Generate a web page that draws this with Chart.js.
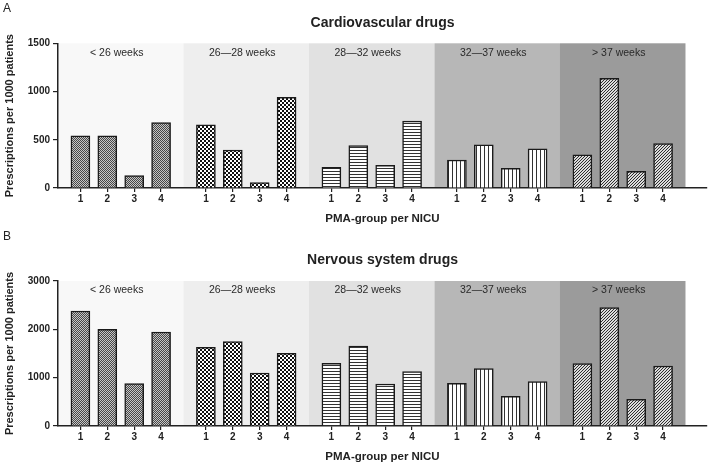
<!DOCTYPE html>
<html>
<head>
<meta charset="utf-8">
<script src="https://cdn.jsdelivr.net/npm/chart.js@4.4.0/dist/chart.umd.min.js"></script>
<style>
  body { margin: 0; background: #fff; width: 709px; height: 466px; position: relative; overflow: hidden; font-family: "Liberation Sans", Arial, sans-serif; }
  canvas { position: absolute; left: 0; }
  #chartA { top: 0; }
  #chartB { top: 233px; }
  .panel-letter { position: absolute; left: 3px; font-size: 12px; color: #222; z-index: 1; }
</style>
</head>
<body>
<div class="panel-letter" style="top:1px">A</div>
<div class="panel-letter" style="top:229px">B</div>
<canvas id="chartA" width="709" height="233"></canvas>
<canvas id="chartB" width="709" height="233"></canvas>
<script>
// Data
const pmaGroups = ['< 26 weeks', '26\u201428 weeks', '28\u201432 weeks', '32\u201437 weeks', '> 37 weeks'];
const nicuLabels = ['1', '2', '3', '4'];
const cardioValues = [
    [541, 541, 130, 679],
    [655, 393, 55, 941],
    [213, 441, 234, 693],
    [290, 448, 203, 407],
    [344, 1138, 172, 461]
];
const nervousValues = [
    [2379, 2000, 876, 1945],
    [1628, 1745, 1097, 1503],
    [1297, 1655, 869, 1124],
    [883, 1186, 614, 917],
    [1290, 2448, 552, 1241]
];
const cardioTicks = [0, 500, 1000, 1500];
const nervousTicks = [0, 1000, 2000, 3000];

// Layout of the x axis: each PMA group is 14 units wide, bars 3 units apart
const GROUP_SPAN = 14;
const BAR_STEP = 3;
const FIRST_BAR = 2.5;
const bandColors = ['#f8f8f8', '#eeeeee', '#e1e1e1', '#b7b7b7', '#9b9b9b'];
const FONT = '"Liberation Sans", Arial, sans-serif';
const INK = '#222';

Chart.defaults.font.family = FONT;

function barX(group, bar) {
    return group * GROUP_SPAN + FIRST_BAR + bar * BAR_STEP;
}

// Small tiled fills for the bars of each PMA group
function makePattern(size, bg, draw) {
    const c = document.createElement('canvas');
    c.width = size;
    c.height = size;
    const ctx = c.getContext('2d');
    ctx.fillStyle = bg;
    ctx.fillRect(0, 0, size, size);
    draw(ctx);
    return ctx.createPattern(c, 'repeat');
}

const barPatterns = [
    makePattern(2, '#c6c6c6', ctx => {
        ctx.fillStyle = '#474747';
        ctx.fillRect(0, 0, 1, 1);
        ctx.fillRect(1, 1, 1, 1);
    }),
    makePattern(4, '#ffffff', ctx => {
        ctx.fillStyle = '#111';
        ctx.fillRect(0, 0, 2, 2);
        ctx.fillRect(2, 2, 2, 2);
    }),
    makePattern(3, '#ffffff', ctx => {
        ctx.fillStyle = '#333';
        ctx.fillRect(0, 0, 3, 1);
    }),
    makePattern(4, '#ffffff', ctx => {
        ctx.fillStyle = '#333';
        ctx.fillRect(0, 0, 1, 4);
    }),
    makePattern(3, '#dcdcdc', ctx => {
        ctx.fillStyle = '#2e2e2e';
        ctx.fillRect(0, 2, 1, 1);
        ctx.fillRect(1, 1, 1, 1);
        ctx.fillRect(2, 0, 1, 1);
    })
];

// Grey bands behind each PMA group with their labels
const pmaBands = {
    id: 'pmaBands',
    beforeDraw(chart) {
        const { ctx, chartArea, scales: { x } } = chart;
        ctx.save();
        pmaGroups.forEach((label, g) => {
            const left = x.getPixelForValue(g * GROUP_SPAN);
            const right = x.getPixelForValue((g + 1) * GROUP_SPAN);
            ctx.fillStyle = bandColors[g];
            ctx.fillRect(left, chartArea.top, right - left, chartArea.bottom - chartArea.top);
            ctx.fillStyle = '#2a2a2a';
            ctx.font = '10.5px ' + FONT;
            ctx.textAlign = 'center';
            ctx.textBaseline = 'middle';
            ctx.fillText(label, (left + right) / 2 - 4, chartArea.top + 9.5);
        });
        ctx.restore();
    }
};

// One panel (A or B)
function createPanel(canvasId, title, values, yTicks, layout) {
    const points = [];
    values.forEach((groupValues, g) => {
        groupValues.forEach((v, b) => points.push({ x: barX(g, b), y: v }));
    });
    const tickPositions = points.map(p => p.x);

    return new Chart(document.getElementById(canvasId), {
        type: 'bar',
        data: {
            datasets: [{
                data: points,
                backgroundColor: ctx => barPatterns[Math.floor(ctx.dataIndex / 4)],
                borderColor: '#1a1a1a',
                borderWidth: 1.5,
                barThickness: 19
            }]
        },
        options: {
            responsive: false,
            animation: false,
            devicePixelRatio: 1,
            layout: { padding: { right: 2 } },
            plugins: {
                legend: { display: false },
                tooltip: { enabled: false },
                title: {
                    display: true,
                    text: title,
                    fullSize: false,
                    color: INK,
                    font: { size: 14, weight: 'bold' },
                    padding: { top: layout.titleTop, bottom: layout.titleBottom }
                }
            },
            scales: {
                x: {
                    type: 'linear',
                    min: 0,
                    max: 72.4,
                    offset: false,
                    afterBuildTicks: scale => { scale.ticks = tickPositions.map(value => ({ value })); },
                    afterFit: scale => { scale.height = layout.xHeight; },
                    grid: { display: true, drawOnChartArea: false, drawTicks: true, tickLength: 4, color: INK, lineWidth: 1.2, offset: false },
                    border: { display: true, color: INK, width: 1.5 },
                    ticks: {
                        autoSkip: false,
                        maxRotation: 0,
                        padding: 1,
                        color: INK,
                        font: { size: 10, weight: 'bold' },
                        callback: (v, i) => nicuLabels[i % 4]
                    },
                    title: {
                        display: true,
                        text: 'PMA-group per NICU',
                        color: INK,
                        font: { size: 11.5, weight: 'bold' },
                        padding: { top: 0, bottom: layout.xTitleBottom }
                    }
                },
                y: {
                    min: 0,
                    max: yTicks[yTicks.length - 1],
                    afterBuildTicks: scale => { scale.ticks = yTicks.map(value => ({ value })); },
                    afterFit: scale => { scale.width = 58; },
                    grid: { display: true, drawOnChartArea: false, drawTicks: true, tickLength: 5, color: INK, lineWidth: 1.2 },
                    border: { display: true, color: INK, width: 1.5 },
                    ticks: {
                        padding: 3,
                        color: INK,
                        font: { size: 10, weight: 'bold' },
                        callback: v => String(v)
                    },
                    title: {
                        display: true,
                        text: 'Prescriptions per 1000 patients',
                        color: INK,
                        font: { size: 11, weight: 'bold' },
                        padding: { top: 3.5, bottom: 0 }
                    }
                }
            }
        },
        plugins: [pmaBands]
    });
}

createPanel('chartA', 'Cardiovascular drugs', cardioValues, cardioTicks,
    { titleTop: 14.3, titleBottom: 12.2, xHeight: 45, xTitleBottom: 6.8 });
createPanel('chartB', 'Nervous system drugs', nervousValues, nervousTicks,
    { titleTop: 18.6, titleBottom: 12.6, xHeight: 40, xTitleBottom: 2.4 });
</script>
</body>
</html>
